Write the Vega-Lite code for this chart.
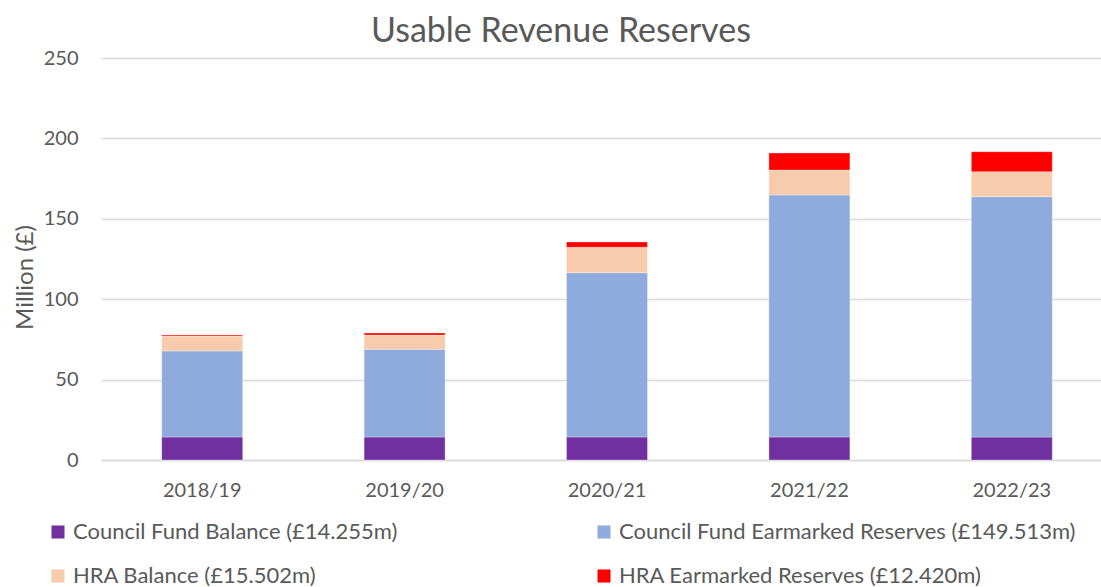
{
  "$schema": "https://vega.github.io/schema/vega-lite/v6.json",
  "autosize": {"type": "none"},
  "padding": {"left": 101, "top": 58, "right": 0, "bottom": 127},
  "width": 1012,
  "height": 402,
  "background": "white",
  "title": {
    "text": "Usable Revenue Reserves",
    "font": "Lato",
    "fontSize": 34,
    "fontWeight": "normal",
    "color": "#595959",
    "anchor": "start",
    "frame": "group",
    "dx": 270,
    "offset": -1
  },
  "data": {
    "values": [
      {"year": "2018/19", "component": "Council Fund Balance (£14.255m)", "value": 14.3},
      {"year": "2018/19", "component": "Council Fund Earmarked Reserves (£149.513m)", "value": 53.5},
      {"year": "2018/19", "component": "HRA Balance (£15.502m)", "value": 9.3},
      {"year": "2018/19", "component": "HRA Earmarked Reserves (£12.420m)", "value": 0.6},
      {"year": "2019/20", "component": "Council Fund Balance (£14.255m)", "value": 14.3},
      {"year": "2019/20", "component": "Council Fund Earmarked Reserves (£149.513m)", "value": 54.5},
      {"year": "2019/20", "component": "HRA Balance (£15.502m)", "value": 8.9},
      {"year": "2019/20", "component": "HRA Earmarked Reserves (£12.420m)", "value": 1.3},
      {"year": "2020/21", "component": "Council Fund Balance (£14.255m)", "value": 14.3},
      {"year": "2020/21", "component": "Council Fund Earmarked Reserves (£149.513m)", "value": 102.2},
      {"year": "2020/21", "component": "HRA Balance (£15.502m)", "value": 15.8},
      {"year": "2020/21", "component": "HRA Earmarked Reserves (£12.420m)", "value": 3.3},
      {"year": "2021/22", "component": "Council Fund Balance (£14.255m)", "value": 14.3},
      {"year": "2021/22", "component": "Council Fund Earmarked Reserves (£149.513m)", "value": 150.5},
      {"year": "2021/22", "component": "HRA Balance (£15.502m)", "value": 15.5},
      {"year": "2021/22", "component": "HRA Earmarked Reserves (£12.420m)", "value": 10.6},
      {"year": "2022/23", "component": "Council Fund Balance (£14.255m)", "value": 14.255},
      {"year": "2022/23", "component": "Council Fund Earmarked Reserves (£149.513m)", "value": 149.513},
      {"year": "2022/23", "component": "HRA Balance (£15.502m)", "value": 15.502},
      {"year": "2022/23", "component": "HRA Earmarked Reserves (£12.420m)", "value": 12.42}
    ]
  },
  "mark": {"type": "bar", "stroke": "white", "strokeWidth": 0.6, "strokeOpacity": 0.5},
  "encoding": {
    "x": {
      "field": "year",
      "type": "nominal",
      "title": null,
      "scale": {"paddingInner": 0.6, "paddingOuter": 0.3},
      "axis": {
        "labelAngle": 0,
        "labelFont": "Lato",
        "labelFontSize": 20,
        "labelColor": "#595959",
        "labelPadding": 20,
        "ticks": false,
        "domainColor": "#D9D9D9",
        "domainWidth": 1.5
      }
    },
    "y": {
      "field": "value",
      "type": "quantitative",
      "stack": "zero",
      "scale": {"domain": [0, 250]},
      "title": "Million (£)",
      "axis": {
        "values": [0, 50, 100, 150, 200, 250],
        "labelFont": "Lato",
        "labelFontSize": 20,
        "labelColor": "#595959",
        "labelPadding": 23,
        "ticks": false,
        "domain": false,
        "gridColor": "#D9D9D9",
        "gridWidth": 1.5,
        "titleFont": "Lato",
        "titleFontSize": 24,
        "titleFontWeight": "normal",
        "titleColor": "#595959",
        "titleAngle": -90,
        "titleX": -76,
        "titleY": 219,
        "titleAlign": "center",
        "titleBaseline": "middle"
      }
    },
    "color": {
      "field": "component",
      "type": "nominal",
      "scale": {
        "domain": [
          "Council Fund Balance (£14.255m)",
          "Council Fund Earmarked Reserves (£149.513m)",
          "HRA Balance (£15.502m)",
          "HRA Earmarked Reserves (£12.420m)"
        ],
        "range": ["#7030A0", "#8FAADC", "#F8CBAD", "#FF0000"]
      },
      "legend": {
        "title": null,
        "orient": "none",
        "direction": "horizontal",
        "legendX": -54,
        "legendY": 463,
        "columns": 2,
        "columnPadding": 195,
        "rowPadding": 22,
        "symbolType": "square",
        "symbolSize": 170,
        "symbolStrokeWidth": 0,
        "labelFont": "Lato",
        "labelFontSize": 22,
        "labelColor": "#595959",
        "labelOffset": 4,
        "labelLimit": 600
      }
    },
    "order": {"field": "component", "type": "nominal", "sort": "ascending"}
  },
  "config": {"view": {"stroke": null}}
}
